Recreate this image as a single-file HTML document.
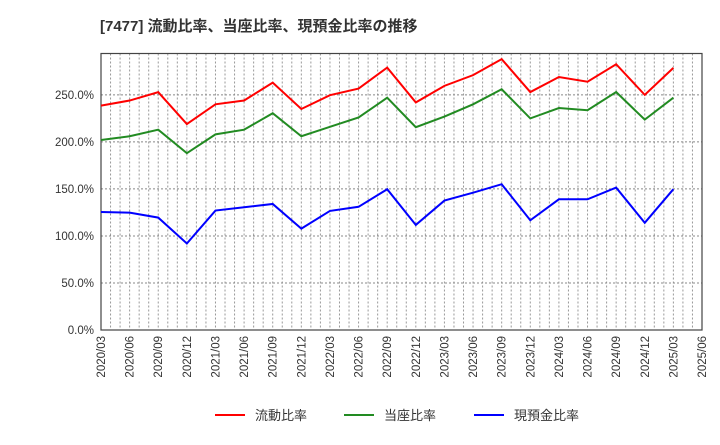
<!DOCTYPE html>
<html><head><meta charset="utf-8"><style>
body{margin:0;background:#fff;}
svg text{font-family:"Liberation Sans","Noto Sans CJK JP",sans-serif;}
</style></head><body>
<svg id="chart" width="720" height="440" xmlns="http://www.w3.org/2000/svg">
<text x="100" y="31" font-size="15" font-weight="bold" fill="#333">[7477]  流動比率、当座比率、現預金比率の推移</text>
<g id="grid"></g><g id="axes"></g><g id="series"></g><g id="legend"></g>
</svg>
<script>
const xLabels=["2020/03","2020/06","2020/09","2020/12","2021/03","2021/06","2021/09","2021/12","2022/03","2022/06","2022/09","2022/12","2023/03","2023/06","2023/09","2023/12","2024/03","2024/06","2024/09","2024/12","2025/03","2025/06"];
const yTicks=[0,50,100,150,200,250];
const yTickLabels=["0.0%","50.0%","100.0%","150.0%","200.0%","250.0%"];
const currentRatio=[238.6,244,252.9,219,240,244,263,235,249.7,256.7,279,242,259.6,271,288,253,269,264,282.6,250,278.7];
const quickRatio=[202,206,213,188,208,213,230.5,206,216,226,247,215.6,227,240,256,225,236,233.7,253,223.7,247];
const cashRatio=[125.5,124.8,119.5,92,127,130.5,134,107.8,126.6,131,149.7,111.7,137.6,146,155,116.7,139,139,151.4,114,149.7];
const seriesNames=["流動比率","当座比率","現預金比率"];
const seriesColors=["#ff0000","#228b22","#0000ff"];

const L=101,R=702,T=53.5,B=330,yMax=294;
const NS="http://www.w3.org/2000/svg";
const x=i=>L+(R-L)*i/(xLabels.length-1);
const y=v=>B-(B-T)*v/yMax;
function mk(tag,attrs,parent){const e=document.createElementNS(NS,tag);for(const k in attrs)e.setAttribute(k,attrs[k]);parent.appendChild(e);return e;}
const grid=document.getElementById('grid'),axes=document.getElementById('axes'),ser=document.getElementById('series'),leg=document.getElementById('legend');
// monthly vertical grid
for(let m=1;m<(xLabels.length-1)*3;m++){
  const g=mk('line',{x1:L+(R-L)*m/((xLabels.length-1)*3),x2:L+(R-L)*m/((xLabels.length-1)*3),y1:T,y2:B,stroke:'#999','stroke-dasharray':'2,2','stroke-width':1},grid);
  
  
}
yTicks.forEach((v,i)=>{
  if(v>0){const g=mk('line',{x1:L,x2:R,y1:y(v),y2:y(v),stroke:'#888','stroke-dasharray':'2,2','stroke-width':1},grid);
  
  }
  const t=mk('text',{x:L-7,y:y(v)+4,'text-anchor':'end','font-size':11.5,fill:'#333'},axes);
  t.textContent=yTickLabels[i];
  
  
});
xLabels.forEach((lb,i)=>{
  const t=mk('text',{transform:`translate(${x(i)+4},${B+6}) rotate(-90)`,'text-anchor':'end','font-size':11.5,fill:'#333'},axes);
  t.textContent=lb;
  
  
});
const frame=mk('rect',{x:L,y:T,width:R-L,height:B-T,fill:'none',stroke:'#444','stroke-width':1.2},axes);


[currentRatio,quickRatio,cashRatio].forEach((d,s)=>{
  const p=mk('polyline',{points:d.map((v,i)=>x(i)+','+y(v)).join(' '),fill:'none',stroke:seriesColors[s],'stroke-width':2},ser);
  
  
});
const lx=[215,344,474];
seriesNames.forEach((n,s)=>{
  const g=mk('g',{},leg);
  
  
  mk('line',{x1:lx[s],x2:lx[s]+30,y1:415,y2:415,stroke:seriesColors[s],'stroke-width':2},g);
  const t=mk('text',{x:lx[s]+40,y:420,'font-size':13,fill:'#333'},g);
  t.textContent=n;
});
</script>
</body></html>
